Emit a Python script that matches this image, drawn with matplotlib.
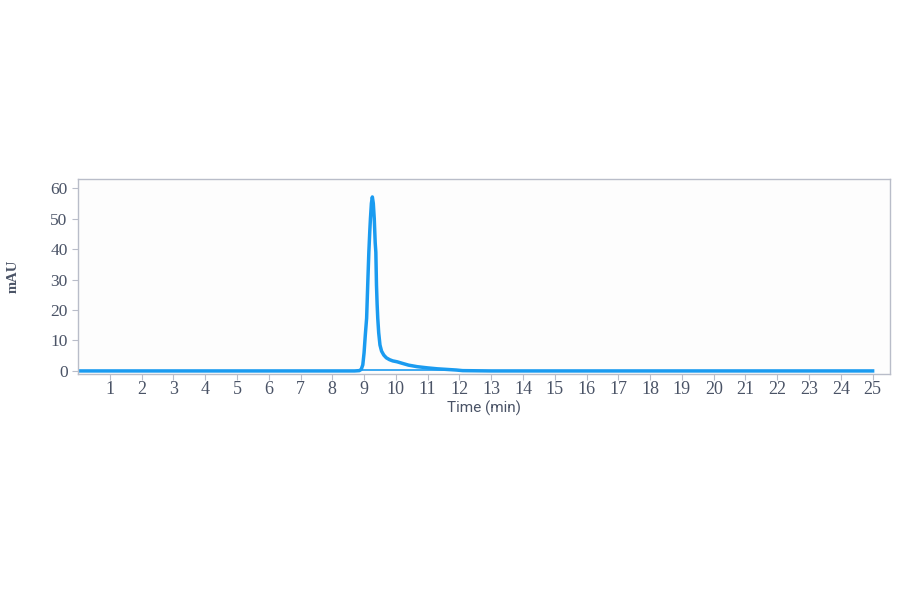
import numpy as np
import matplotlib.pyplot as plt

# chromatogram trace (time in min, signal in mAU)
time = [0.0, 2.0, 4.0, 6.0, 8.0, 8.7, 8.85, 8.91, 8.96, 9.0, 9.04, 9.08, 9.12, 9.15, 9.18,
        9.2, 9.23, 9.26, 9.29, 9.32, 9.35, 9.37, 9.39, 9.41, 9.43, 9.46, 9.5, 9.55,
        9.62, 9.7, 9.8, 9.9, 10.04, 10.2, 10.4, 10.67, 11.0, 11.3, 11.6, 11.9, 12.1,
        13.0, 15.0, 17.0, 19.0, 21.0, 23.0, 25.0]
signal = [0.0, 0.0, 0.0, 0.0, 0.0, 0.0, 0.1, 0.5, 2.0, 6.0, 12.0, 17.3, 30.0, 39.0, 46.0,
          50.0, 55.0, 57.1, 55.0, 50.0, 42.0, 39.0, 28.2, 22.0, 17.3, 12.5, 8.5, 6.5,
          5.2, 4.3, 3.7, 3.3, 3.0, 2.5, 1.9, 1.4, 1.0, 0.7, 0.5, 0.3, 0.1,
          0.0, 0.0, 0.0, 0.0, 0.0, 0.0, 0.0]

# integration baseline under the peak
base_t = [8.9, 12.0]
base_y = [0.15, 0.15]

x_ticks = list(range(1, 26))
y_ticks = [0, 10, 20, 30, 40, 50, 60]

line_color = '#1a9bf0'
text_color = '#4a5366'
spine_color = '#b9bdc9'

fig = plt.figure(figsize=(9, 5.94), dpi=100)
fig.patch.set_facecolor('white')
ax = fig.add_axes([0.0867, 0.3704, 0.9023, 0.3283])
ax.set_facecolor('#fdfdfd')

ax.plot(time, signal, color=line_color, lw=2.5, solid_joinstyle='round')
ax.plot(base_t, base_y, color=line_color, lw=1.2)

ax.set_xlim(0, 25.55)
ax.set_ylim(-1, 63)
ax.set_xticks(x_ticks)
ax.set_yticks(y_ticks)

for s in ax.spines.values():
    s.set_color(spine_color)
    s.set_linewidth(1.0)

ax.tick_params(axis='both', colors=spine_color, length=4, width=0.8,
               labelcolor=text_color, labelsize=12.5)
ax.tick_params(axis='x', pad=1, labelsize=13)
for lab in ax.get_xticklabels() + ax.get_yticklabels():
    lab.set_family('Liberation Serif')

ax.set_xlabel('Time (min)', fontsize=11, color=text_color, family='Roboto', labelpad=2)
ax.set_ylabel('mAU', fontsize=10.5, color=text_color, family='Liberation Serif',
              fontweight='bold', labelpad=22)

fig.savefig('out.png', dpi=100)
